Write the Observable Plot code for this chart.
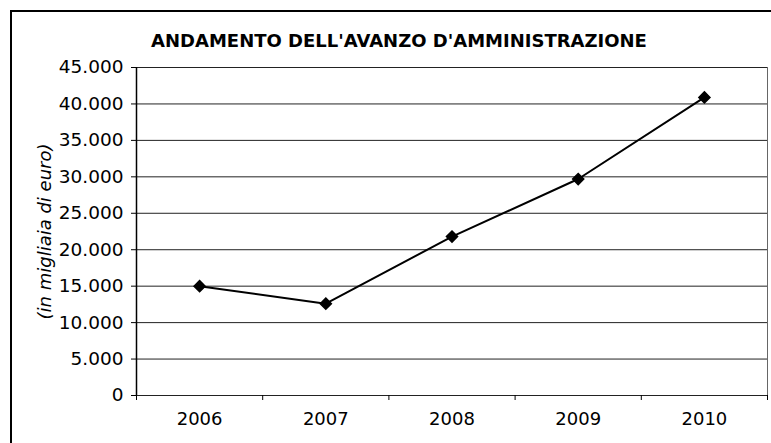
<!DOCTYPE html>
<html>
<head>
<meta charset="utf-8">
<script src="https://cdn.jsdelivr.net/npm/d3@7"></script>
<script src="https://cdn.jsdelivr.net/npm/@observablehq/plot@0.6"></script>
<style>
  html, body { margin: 0; padding: 0; background: #fff; }
  #wrap { position: relative; width: 771px; height: 443px; overflow: hidden; }
  #frame { position: absolute; left: 10px; top: 10px; width: 800px; height: 500px;
           border-left: 2px solid #000; border-top: 2px solid #000; pointer-events: none; }
</style>
</head>
<body>
<div id="wrap"><div id="frame"></div></div>
<script>
const title = "ANDAMENTO DELL'AVANZO D'AMMINISTRAZIONE";
const yLabel = "(in migliaia di euro)";
const years = [2006, 2007, 2008, 2009, 2010];
const values = [15000, 12600, 21800, 29700, 40900];
const yTicks = [0, 5000, 10000, 15000, 20000, 25000, 30000, 35000, 40000, 45000];
const xBounds = [2005.5, 2006.5, 2007.5, 2008.5, 2009.5, 2010.5];

const data = years.map((y, i) => ({year: y, value: values[i]}));
const it = d3.formatLocale({decimal: ",", thousands: ".", grouping: [3], currency: ["", " €"]});
const fmt = it.format(",d");

const chart = Plot.plot({
  width: 771,
  height: 443,
  marginLeft: 136,
  marginRight: 4,
  marginTop: 67,
  marginBottom: 48,
  style: {fontFamily: "'DejaVu Sans', Verdana, sans-serif", fontSize: "18px", color: "#000", background: "transparent"},
  x: {type: "linear", domain: [2005.5, 2010.5]},
  y: {domain: [0, 45000]},
  marks: [
    Plot.ruleY(yTicks, {stroke: "#222", strokeWidth: 1}),
    Plot.ruleX([xBounds[xBounds.length - 1]], {stroke: "#666", strokeWidth: 1}),
    Plot.ruleX([xBounds[0]], {stroke: "#000", strokeWidth: 1.5}),
    Plot.axisY({ticks: yTicks, tickSize: 5, tickPadding: 8, tickFormat: fmt, label: null, fontSize: 18.5}),
    Plot.axisX({ticks: years, tickSize: 0, tickPadding: 17, tickFormat: d => String(d), label: null, fontSize: 18}),
    Plot.axisX({ticks: xBounds, tickSize: 5, tickFormat: () => "", label: null}),
    Plot.line(data, {x: "year", y: "value", stroke: "#000", strokeWidth: 2}),
    Plot.dot(data, {x: "year", y: "value", symbol: "diamond2", r: 5, fill: "#000", stroke: "#000"}),
    Plot.text([yLabel], {frameAnchor: "left", textAnchor: "middle", rotate: -90, dx: -91, fontStyle: "italic", fontSize: 18}),
    Plot.text([title], {frameAnchor: "top", dx: -53, dy: -33, fontWeight: "bold", fontSize: 18})
  ]
});
document.getElementById("wrap").prepend(chart);
</script>
</body>
</html>
